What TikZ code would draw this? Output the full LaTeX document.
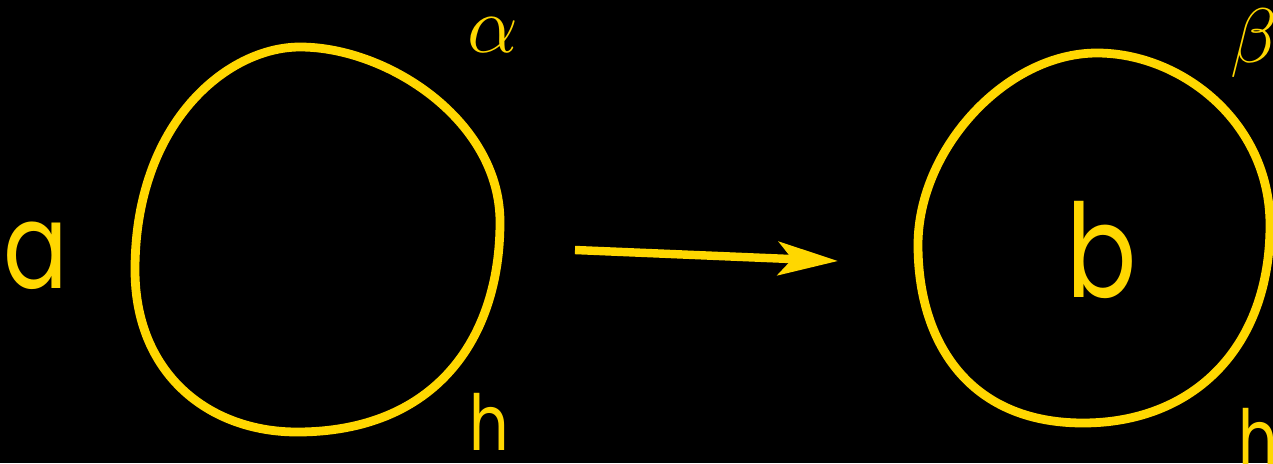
\RequirePackage{fix-cm}
\documentclass[tikz,border=0pt]{standalone}
\usepackage{fontspec}
\setmainfont{Poppins}
\newfontfamily\narrowsans[FakeStretch=0.8]{Poppins}
\usetikzlibrary{arrows.meta}
\definecolor{gold}{RGB}{255,215,0}
\tikzset{
  blob/.style={draw=gold, line width=5pt},
  lbl/.style={text=gold, inner sep=0pt, anchor=base},
  arr/.style={draw=gold, line width=4.8pt, -{Stealth[length=34pt, width=19pt, inset=8pt]}},
}
\begin{document}
\begin{tikzpicture}[x=0.02cm, y=-0.02cm]
\fill[black] (0,0) rectangle (1273,463);
\useasboundingbox (0,0) rectangle (1273,463);
% left blob
\draw[blob] (300,47)
  .. controls (388,47) and (500,121) .. (500,222)
  .. controls (500,339) and (435,432) .. (297,432)
  .. controls (209,432) and (135,374) .. (135,270)
  .. controls (135,123) and (227,47) .. (300,47) -- cycle;
% right blob
\draw[blob] (1097,53)
  .. controls (1181,53) and (1270,122) .. (1270,225)
  .. controls (1270,348) and (1193,423) .. (1083,423)
  .. controls (968,423) and (918,341) .. (918,245)
  .. controls (918,149) and (1006,53) .. (1097,53) -- cycle;
% labels
\node[lbl, font=\narrowsans\fontsize{68}{72}\selectfont] (a) at (36,288) {a};
\node[lbl, font=\narrowsans\fontsize{74}{80}\selectfont] (b) at (1102,297) {b};
\node[lbl, font=\narrowsans\fontsize{44}{50}\selectfont] (h1) at (489,450) {h};
\node[lbl, font=\narrowsans\fontsize{44}{50}\selectfont, anchor=base west] (h2) at (1238,465) {h};
\node[lbl, font=\fontsize{46}{50}\selectfont] (al) at (493,52) {$\alpha$};
\node[lbl, font=\fontsize{44}{50}\selectfont, anchor=base west] (be) at (1230,62) {$\beta$};
% arrow
\coordinate (s) at (575,250);
\coordinate (t) at (838,261);
\draw[arr] (s) -- (t);
\end{tikzpicture}
\end{document}
